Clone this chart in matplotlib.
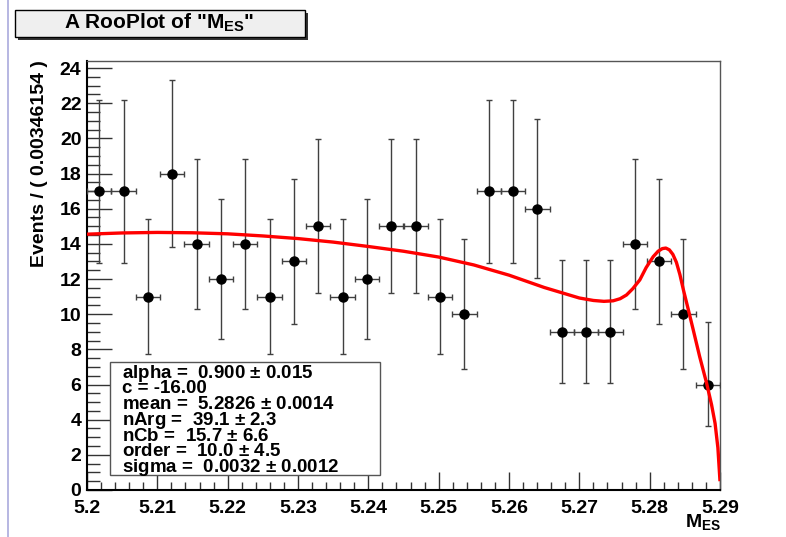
import matplotlib
matplotlib.use("Agg")
import matplotlib.pyplot as plt
from matplotlib.patches import Rectangle
from matplotlib.lines import Line2D
from matplotlib.ticker import MultipleLocator

plt.rcParams['font.family'] = ['Liberation Sans', 'DejaVu Sans']
plt.rcParams['font.weight'] = 'bold'
plt.rcParams['mathtext.fontset'] = 'custom'
plt.rcParams['mathtext.rm'] = 'Liberation Sans:bold'
plt.rcParams['mathtext.bf'] = 'Liberation Sans:bold'

# binned data (26 bins of 0.00346154 between 5.20 and 5.29)
bin_centers = [5.20173, 5.20519, 5.20865, 5.21212, 5.21558, 5.21904, 5.22250,
               5.22596, 5.22942, 5.23288, 5.23635, 5.23981, 5.24327, 5.24673,
               5.25019, 5.25365, 5.25712, 5.26058, 5.26404, 5.26750, 5.27096,
               5.27442, 5.27788, 5.28135, 5.28481, 5.28827]
counts = [17, 17, 11, 18, 14, 12, 14, 11, 13, 15, 11, 12, 15, 15, 11, 10,
          17, 17, 16, 9, 9, 9, 14, 13, 10, 6]
err_low = [12.92, 12.92, 7.74, 13.80, 10.31, 8.59, 10.31, 7.74, 9.45, 11.18,
           7.74, 8.59, 11.18, 11.18, 7.74, 6.89, 12.92, 12.92, 12.05, 6.06,
           6.06, 6.06, 10.31, 9.45, 6.89, 3.62]
err_high = [22.21, 22.21, 15.43, 23.33, 18.84, 16.57, 18.84, 15.43, 17.71, 19.97,
            15.43, 16.57, 19.97, 19.97, 15.43, 14.27, 22.21, 22.21, 21.09, 13.11,
            13.11, 13.11, 18.84, 17.71, 14.27, 9.58]
half_width = 0.00173077

# fitted curve
curve_x = [5.2000, 5.2050, 5.2100, 5.2150, 5.2200, 5.2250, 5.2300, 5.2350,
           5.2400, 5.2450, 5.2500, 5.2550, 5.2600, 5.2650, 5.2700, 5.2720,
           5.2735, 5.2748, 5.2758, 5.2767, 5.2776, 5.2786, 5.2795, 5.2805,
           5.2812, 5.2818, 5.2823, 5.2828, 5.2833, 5.2838, 5.2843, 5.2848,
           5.2855, 5.2862, 5.2871, 5.2881, 5.2888, 5.2893, 5.2897, 5.2900]
curve_y = [14.55, 14.62, 14.65, 14.63, 14.57, 14.45, 14.30, 14.10,
           13.85, 13.58, 13.25, 12.80, 12.22, 11.52, 10.92, 10.78,
           10.73, 10.76, 10.88, 11.09, 11.45, 11.95, 12.65, 13.27,
           13.58, 13.73, 13.76, 13.66, 13.40, 12.95, 12.25, 11.38,
           10.25, 9.10, 7.60, 6.07, 4.85, 3.79, 2.40, 0.50]

stats_lines = ["alpha =  0.900 $\\pm$ 0.015",
               "c = -16.00",
               "mean =  5.2826 $\\pm$ 0.0014",
               "nArg =  39.1 $\\pm$ 2.3",
               "nCb =  15.7 $\\pm$ 6.6",
               "order =  10.0 $\\pm$ 4.5",
               "sigma =  0.0032 $\\pm$ 0.0012"]

W, H = 786, 537


def fx(px):
    return px / W


def fy(py):
    return 1 - py / H


fig = plt.figure(figsize=(W / 100, H / 100), dpi=100)
ax = fig.add_axes([fx(87), fy(490), fx(720) - fx(87), fy(61) - fy(490)])

ax.errorbar(bin_centers, counts,
            xerr=[[half_width] * len(counts), [half_width] * len(counts)],
            yerr=[[c - lo for c, lo in zip(counts, err_low)],
                  [hi - c for c, hi in zip(counts, err_high)]],
            fmt='o', color='black', ecolor='#404040', elinewidth=1.0,
            capsize=2.5, capthick=1.0, markersize=6.5, zorder=3)
ax.plot(curve_x, curve_y, color='#ff0000', lw=2.4, zorder=4,
        solid_capstyle='butt', solid_joinstyle='round')

ax.set_xlim(5.2, 5.29)
ax.set_ylim(0, 24.4)
ax.xaxis.set_minor_locator(MultipleLocator(0.002))
ax.yaxis.set_major_locator(MultipleLocator(2))
ax.yaxis.set_minor_locator(MultipleLocator(0.5))
ax.set_xticks([5.2, 5.21, 5.22, 5.23, 5.24, 5.25, 5.26, 5.27, 5.28, 5.29])
ax.set_xticklabels(['5.2', '5.21', '5.22', '5.23', '5.24', '5.25', '5.26',
                    '5.27', '5.28', '5.29'])
ax.tick_params(axis='both', which='both', direction='in', top=False, right=False,
               labelsize=14, width=1.0, color='#333333')
ax.tick_params(axis='y', which='major', length=18, pad=4)
ax.tick_params(axis='y', which='minor', length=9)
ax.tick_params(axis='x', which='major', length=13, pad=7)
ax.tick_params(axis='x', which='minor', length=6)
for lab in ax.get_xticklabels() + ax.get_yticklabels():
    lab.set_fontweight('bold')
for side in ['top', 'right']:
    ax.spines[side].set_color('#555555')
    ax.spines[side].set_linewidth(1.0)
for side in ['left', 'bottom']:
    ax.spines[side].set_color('black')
    ax.spines[side].set_linewidth(1.5)

fig.text(fx(40), fy(60), "Events / ( 0.00346154 )", rotation=90,
         ha='center', va='top', fontsize=14, fontweight='bold')
fig.text(fx(703), fy(523), "M$_{\\mathbf{ES}}$", ha='center', va='center',
         fontsize=14, fontweight='bold')

# stats box, lines packed as tightly as in the original
fig.patches.append(Rectangle((fx(110), fy(475)), fx(380) - fx(110), fy(362) - fy(475),
                             transform=fig.transFigure, facecolor='white',
                             edgecolor='#555555', lw=1.0, zorder=5))
for i, line in enumerate(stats_lines):
    fig.text(fx(122), fy(373 + i * 15.8), line, ha='left', va='center',
             fontsize=13.5, fontweight='bold', zorder=6)

# title box with shadow
fig.patches.append(Rectangle((fx(18), fy(40)), fx(305) - fx(15), fy(10) - fy(37),
                             transform=fig.transFigure, facecolor='#333333',
                             edgecolor='none', zorder=5))
fig.patches.append(Rectangle((fx(15), fy(37)), fx(305) - fx(15), fy(10) - fy(37),
                             transform=fig.transFigure, facecolor='#efefef',
                             edgecolor='black', lw=1.0, zorder=6))
fig.text(fx(159), fy(23), 'A RooPlot of "M$_{\\mathbf{ES}}$"', ha='center',
         va='center', fontsize=15, fontweight='bold', zorder=7)

fig.lines.append(Line2D([fx(8), fx(8)], [0, 1], transform=fig.transFigure,
                        color='#aaaadd', lw=1.2))

fig.savefig("out.png", dpi=100)
